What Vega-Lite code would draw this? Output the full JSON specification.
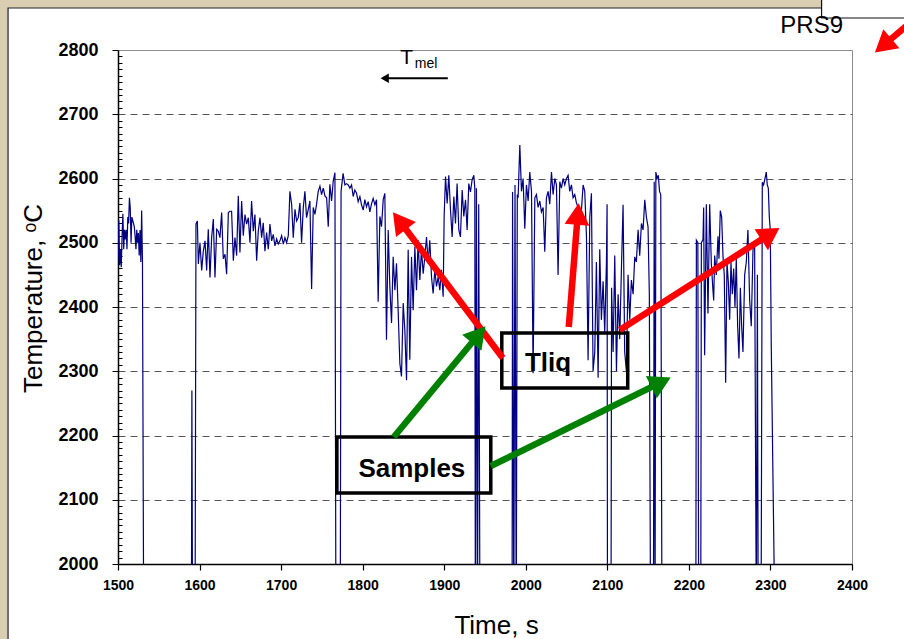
{
  "$schema": "https://vega.github.io/schema/vega-lite/v6.json",
  "width": 734,
  "height": 514,
  "autosize": {"type": "none"},
  "padding": {"left": 118, "top": 50, "right": 52, "bottom": 75},
  "background": "white",
  "config": {"view": {"stroke": "#8c8c8c", "strokeWidth": 1}, "font": "Liberation Sans"},
  "datasets": {
    "series": [
      {"t":1500,"v":2470},{"t":1501,"v":2535},{"t":1502,"v":2465},{"t":1503,"v":2490},{"t":1504,"v":2462},{"t":1505,"v":2510},{"t":1506,"v":2545},{"t":1507,"v":2490},{"t":1508,"v":2520},{"t":1509,"v":2505},{"t":1510,"v":2520},{"t":1511,"v":2490},{"t":1512,"v":2540},{"t":1513,"v":2530},{"t":1514,"v":2570},{"t":1515,"v":2555},{"t":1516,"v":2500},{"t":1517,"v":2540},{"t":1518,"v":2535},{"t":1519,"v":2530},{"t":1520,"v":2525},{"t":1521,"v":2510},{"t":1522,"v":2490},{"t":1523,"v":2520},{"t":1524,"v":2500},{"t":1525,"v":2515},{"t":1526,"v":2480},{"t":1527,"v":2520},{"t":1528,"v":2470},{"t":1529,"v":2550},{"t":1530,"v":2470},{"t":1531.5,"v":1900},
      {"t":1590,"v":1900},{"t":1590.6,"v":2270},{"t":1591.4,"v":1900},{"t":1594.5,"v":1900},
      {"t":1595.6,"v":2529},{"t":1597.3,"v":2534},{"t":1598.5,"v":2467},{"t":1600.5,"v":2500},{"t":1602.6,"v":2457},{"t":1604.6,"v":2487},{"t":1606.7,"v":2503},{"t":1608.7,"v":2457},{"t":1610.7,"v":2521},{"t":1612.8,"v":2446},{"t":1614.8,"v":2508},{"t":1616.9,"v":2537},{"t":1618.9,"v":2446},{"t":1621,"v":2521},{"t":1623,"v":2518},{"t":1625,"v":2508},{"t":1627.1,"v":2547},{"t":1629.1,"v":2475},{"t":1631.2,"v":2482},{"t":1633.2,"v":2451},{"t":1635.3,"v":2547},{"t":1637.3,"v":2549},{"t":1639.3,"v":2549},{"t":1641.4,"v":2472},{"t":1643.4,"v":2508},{"t":1645.5,"v":2480},{"t":1647.5,"v":2573},{"t":1649.5,"v":2485},{"t":1651.6,"v":2565},{"t":1653.6,"v":2511},{"t":1655.7,"v":2544},{"t":1657.7,"v":2529},{"t":1659.8,"v":2539},{"t":1661.8,"v":2500},{"t":1663.8,"v":2565},{"t":1665.9,"v":2518},{"t":1667.9,"v":2544},{"t":1670,"v":2472},{"t":1672,"v":2518},{"t":1674.1,"v":2539},{"t":1676.1,"v":2508},{"t":1678.1,"v":2531},{"t":1680.2,"v":2487},{"t":1682.2,"v":2516},{"t":1684.3,"v":2490},{"t":1686.3,"v":2529},{"t":1688.4,"v":2503},{"t":1690.4,"v":2513},{"t":1692.4,"v":2495},{"t":1694.5,"v":2506},{"t":1696.5,"v":2498},{"t":1698.6,"v":2503},{"t":1700.6,"v":2511},{"t":1702.7,"v":2498},{"t":1704.7,"v":2508},{"t":1706.7,"v":2500},{"t":1708.8,"v":2511},{"t":1710.8,"v":2580},{"t":1712.9,"v":2560},{"t":1714.9,"v":2508},{"t":1717,"v":2552},{"t":1719,"v":2534},{"t":1721,"v":2539},{"t":1723.1,"v":2562},{"t":1725.1,"v":2500},{"t":1727.2,"v":2555},{"t":1729.2,"v":2580},{"t":1731.2,"v":2539},{"t":1733.3,"v":2552},{"t":1735.3,"v":2565},{"t":1737.4,"v":2428},{"t":1739.4,"v":2555},{"t":1741.5,"v":2544},{"t":1743.5,"v":2560},{"t":1745.5,"v":2580},{"t":1747.6,"v":2588},{"t":1749.6,"v":2575},{"t":1751.7,"v":2585},{"t":1753.7,"v":2573},{"t":1755.8,"v":2570},{"t":1757.8,"v":2525},{"t":1759.8,"v":2591},{"t":1761.9,"v":2565},{"t":1763.9,"v":2596},{"t":1766,"v":2609},{"t":1767.2,"v":1900},{"t":1772.5,"v":1900},{"t":1773.5,"v":2580},
      {"t":1776,"v":2608},{"t":1778.2,"v":2590},{"t":1780.2,"v":2592},{"t":1782.3,"v":2590},{"t":1784.3,"v":2585},{"t":1786.4,"v":2590},{"t":1788.4,"v":2572},{"t":1790.4,"v":2582},{"t":1792.5,"v":2577},{"t":1794.5,"v":2564},{"t":1796.6,"v":2572},{"t":1798.6,"v":2559},{"t":1800.7,"v":2551},{"t":1802.7,"v":2567},{"t":1804.7,"v":2556},{"t":1806.8,"v":2564},{"t":1808.8,"v":2548},{"t":1810.9,"v":2561},{"t":1812.9,"v":2569},{"t":1815,"v":2559},{"t":1817,"v":2567},{"t":1819,"v":2408},{"t":1821.1,"v":2541},{"t":1823.1,"v":2525},{"t":1825.2,"v":2567},{"t":1827.2,"v":2577},{"t":1829.2,"v":2349},{"t":1831.3,"v":2520},{"t":1833.3,"v":2432},{"t":1835.4,"v":2375},{"t":1837.4,"v":2478},{"t":1839.5,"v":2426},{"t":1841.5,"v":2468},{"t":1843.5,"v":2395},{"t":1845.6,"v":2312},{"t":1847.6,"v":2292},{"t":1849.7,"v":2406},{"t":1851.7,"v":2364},{"t":1853.8,"v":2286},{"t":1855.8,"v":2489},{"t":1857.8,"v":2318},{"t":1859.9,"v":2478},{"t":1861.9,"v":2395},{"t":1864,"v":2494},{"t":1866,"v":2426},{"t":1868,"v":2504},{"t":1870.1,"v":2442},{"t":1872.1,"v":2489},{"t":1874.2,"v":2452},{"t":1876.2,"v":2478},{"t":1878.3,"v":2509},{"t":1880.3,"v":2468},{"t":1882.3,"v":2504},{"t":1884.4,"v":2447},{"t":1886.4,"v":2421},{"t":1888.5,"v":2458},{"t":1890.5,"v":2432},{"t":1892.6,"v":2447},{"t":1894.6,"v":2426},{"t":1896.6,"v":2458},{"t":1898.7,"v":2416},{"t":1899.9,"v":2541},{"t":1901.6,"v":2603},{"t":1903.6,"v":2561},{"t":1905.6,"v":2605},{"t":1907.7,"v":2551},{"t":1909.7,"v":2509},{"t":1911.8,"v":2572},{"t":1913.8,"v":2530},{"t":1915.8,"v":2592},{"t":1917.9,"v":2520},{"t":1919.9,"v":2509},{"t":1922,"v":2582},{"t":1924,"v":2541},{"t":1926.1,"v":2567},{"t":1928.1,"v":2520},{"t":1930.1,"v":2592},{"t":1932.2,"v":2579},{"t":1934.2,"v":2598},{"t":1936.3,"v":2605},{"t":1937.5,"v":2585},{"t":1938.2,"v":1900},{"t":1939.5,"v":2585},{"t":1940.8,"v":1900},{"t":1942.3,"v":2560},{"t":1943.8,"v":1900},
      {"t":1983.2,"v":1900},{"t":1983.8,"v":2579},{"t":1985.3,"v":1900},{"t":1986.8,"v":2590},{"t":1988.3,"v":1900},{"t":1989.6,"v":2575},{"t":1990.6,"v":2570},{"t":1992.7,"v":2652},{"t":1994.7,"v":2580},{"t":1996.7,"v":2600},{"t":1998.8,"v":2522},{"t":2000.8,"v":2590},{"t":2002.9,"v":2565},{"t":2004.9,"v":2610},{"t":2007,"v":2580},{"t":2009,"v":2297},{"t":2011.1,"v":2570},{"t":2013.1,"v":2575},{"t":2015.1,"v":2555},{"t":2017.2,"v":2565},{"t":2019.2,"v":2548},{"t":2021.3,"v":2555},{"t":2023.3,"v":2486},{"t":2025.3,"v":2570},{"t":2027.4,"v":2580},{"t":2029.4,"v":2560},{"t":2031.5,"v":2610},{"t":2033.5,"v":2575},{"t":2035.6,"v":2600},{"t":2037.6,"v":2590},{"t":2039.6,"v":2450},{"t":2041.7,"v":2595},{"t":2043.7,"v":2585},{"t":2045.8,"v":2600},{"t":2047.8,"v":2590},{"t":2049.9,"v":2600},{"t":2051.9,"v":2605},{"t":2053.9,"v":2580},{"t":2056,"v":2590},{"t":2058,"v":2570},{"t":2060.1,"v":2575},{"t":2062.1,"v":2562},{"t":2064.2,"v":2555},{"t":2066.2,"v":2540},{"t":2068.2,"v":2550},{"t":2070.3,"v":2590},{"t":2072.3,"v":2580},{"t":2074.4,"v":2510},{"t":2076.4,"v":2317},{"t":2078.5,"v":2540},{"t":2080.5,"v":2577},{"t":2082.5,"v":2300},{"t":2084.6,"v":2330},{"t":2086.6,"v":2470},{"t":2088.7,"v":2290},{"t":2090.7,"v":2490},{"t":2092.7,"v":2380},{"t":2094.8,"v":2440},{"t":2096.8,"v":2360},{"t":2098.9,"v":2470},{"t":2099.7,"v":2560},{"t":2100.2,"v":1900},{"t":2104.5,"v":1900},{"t":2105.2,"v":2430},{"t":2107.1,"v":2330},{"t":2109.1,"v":2480},{"t":2111.2,"v":2300},{"t":2113.2,"v":2420},{"t":2115.2,"v":2350},{"t":2117.3,"v":2460},{"t":2119.3,"v":2559},{"t":2121.3,"v":2330},{"t":2123.4,"v":2300},{"t":2125.4,"v":2450},{"t":2127.5,"v":2380},{"t":2129.5,"v":2442},{"t":2131.6,"v":2420},{"t":2133.6,"v":2478},{"t":2135.6,"v":2470},{"t":2137.7,"v":2520},{"t":2139.7,"v":2480},{"t":2141.8,"v":2530},{"t":2143.8,"v":2520},{"t":2145.9,"v":2567},{"t":2147.9,"v":2540},{"t":2149.9,"v":2525},{"t":2151.5,"v":2420},{"t":2153,"v":1900},{"t":2156.5,"v":1900},{"t":2157.5,"v":2595},{"t":2158.5,"v":1900},{"t":2159.5,"v":2610},{"t":2161,"v":2600},{"t":2162.5,"v":2605},{"t":2164,"v":2580},{"t":2165.5,"v":2575},{"t":2167,"v":1900},
      {"t":2208.5,"v":1900},{"t":2209.2,"v":2504},{"t":2211,"v":2500},{"t":2212,"v":1900},{"t":2214.5,"v":1900},{"t":2215.3,"v":2500},{"t":2217.3,"v":2505},{"t":2218.1,"v":2555},{"t":2219.3,"v":2325},{"t":2221.4,"v":2560},{"t":2223.4,"v":2390},{"t":2225.5,"v":2560},{"t":2227.5,"v":2468},{"t":2229.5,"v":2426},{"t":2230.4,"v":2410},{"t":2231.6,"v":2480},{"t":2233.6,"v":2450},{"t":2235.7,"v":2510},{"t":2236.9,"v":2475},{"t":2238.5,"v":2550},{"t":2240.2,"v":2540},{"t":2241.8,"v":2480},{"t":2243.4,"v":2450},{"t":2245.1,"v":2282},{"t":2246.7,"v":2470},{"t":2248.3,"v":2440},{"t":2250,"v":2380},{"t":2251.6,"v":2470},{"t":2253.2,"v":2420},{"t":2254.9,"v":2460},{"t":2256.5,"v":2400},{"t":2258.1,"v":2475},{"t":2259.8,"v":2370},{"t":2261.4,"v":2320},{"t":2263.1,"v":2430},{"t":2264.7,"v":2370},{"t":2266.3,"v":2330},{"t":2268.4,"v":2450},{"t":2270.4,"v":2470},{"t":2272.4,"v":2520},{"t":2274.5,"v":2411},{"t":2276.5,"v":2370},{"t":2278.6,"v":2489},{"t":2280.6,"v":2500},{"t":2282.7,"v":1900},{"t":2284,"v":2450},{"t":2285,"v":1900},{"t":2288.5,"v":1900},{"t":2290,"v":2594},{"t":2291.6,"v":2590},{"t":2293.3,"v":2600},{"t":2294.9,"v":2610},{"t":2296.1,"v":2590},{"t":2297.4,"v":2585},{"t":2298.6,"v":2540},{"t":2299.8,"v":2520},{"t":2301,"v":2340},{"t":2305.5,"v":1900},{"t":2400,"v":1900}
    ],
    "panels": [
      {"part":"strip","t1":1300,"t2":1365.2,"v1":1700,"v2":2950},
      {"part":"strip","t1":1300,"t2":2362.7,"v1":2865.4,"v2":2950},
      {"part":"frame","t1":1365.2,"t2":2500,"v1":1700,"v2":2865.4},
      {"part":"tab","t1":2362.7,"t2":2500,"v1":2849.8,"v2":2950}
    ],
    "boxes": [
      {"name":"Tliq","t1":1970.6,"t2":2125,"v1":2273.9,"v2":2359.5},
      {"name":"Samples","t1":1768.4,"t2":1957.1,"v1":2110.5,"v2":2197.7}
    ],
    "arrows": [
      {"id":"r1","c":"red","t1":1971.8,"v1":2320.6,"t2":1845.1,"v2":2534.2,"angle":-37},
      {"id":"r2","c":"red","t1":2052.7,"v1":2368.9,"t2":2063.8,"v2":2544.7,"angle":4.6},
      {"id":"r3","c":"red","t1":2115.2,"v1":2364.2,"t2":2299.9,"v2":2513.8,"angle":57.4},
      {"id":"r4","c":"red","t1":2494.3,"v1":2867.2,"t2":2438.2,"v2":2806.8,"angle":-130.3},
      {"id":"g1","c":"green","t1":1838.2,"v1":2197.7,"t2":1942.2,"v2":2357.2,"angle":39.6},
      {"id":"g2","c":"green","t1":1957.1,"v1":2152.5,"t2":2165.8,"v2":2282.8,"angle":63.8}
    ],
    "tmel": [
      {"t1":1904.4,"t2":1827,"v":2756}
    ],
    "notes": [
      {"id":"Tliq","text":"Tliq","t":2027.3,"v":2300.9},
      {"id":"Samples","text":"Samples","t":1860.3,"v":2135.4},
      {"id":"PRS9","text":"PRS9","t":2350.5,"v":2826.5},
      {"id":"T","text":"T","t":1853.8,"v":2778.2},
      {"id":"mel","text":"mel","t":1864,"v":2771.5}
    ]
  },
  "layer": [
    {
      "data": {"name": "series"},
      "mark": {"type": "line", "clip": true, "color": "#000080", "strokeWidth": 1.2},
      "encoding": {
        "x": {"field": "t", "type": "quantitative", "title": "Time, s",
          "scale": {"domain": [1500, 2400], "nice": false, "zero": false},
          "axis": {"values": [1500,1600,1700,1800,1900,2000,2100,2200,2300,2400], "tickCount": 100, "format": "d", "grid": false, "labelFlush": false,
            "domainColor": "black", "domainWidth": 1.5, "tickColor": "black", "tickSize": 6, "tickWidth": 1.2,
            "labelFont": "Liberation Sans", "labelFontWeight": "bold", "labelFontSize": 14, "labelColor": "black", "labelPadding": 8,
            "titleFont": "Liberation Sans", "titleFontWeight": "normal", "titleFontSize": 26, "titleColor": "black",
            "titleX": 378, "titleY": 69, "titleBaseline": "alphabetic"}},
        "y": {"field": "v", "type": "quantitative", "title": "Temperature, ᵒC",
          "scale": {"domain": [2000, 2800], "nice": false, "zero": false},
          "axis": {"values": [2000,2010,2020,2030,2040,2050,2060,2070,2080,2090,2100,2110,2120,2130,2140,2150,2160,2170,2180,2190,2200,2210,2220,2230,2240,2250,2260,2270,2280,2290,2300,2310,2320,2330,2340,2350,2360,2370,2380,2390,2400,2410,2420,2430,2440,2450,2460,2470,2480,2490,2500,2510,2520,2530,2540,2550,2560,2570,2580,2590,2600,2610,2620,2630,2640,2650,2660,2670,2680,2690,2700,2710,2720,2730,2740,2750,2760,2770,2780,2790,2800],
            "tickCount": 200, "labelFlush": false,
            "format": "d", "labelExpr": "datum.value % 100 === 0 ? datum.label : ''", "labelOverlap": false,
            "grid": true, "gridColor": "#555555", "gridDash": [7, 5], "gridWidth": 1,
            "gridOpacity": {"condition": {"test": "datum.value % 100 === 0 && datum.value > 2000 && datum.value < 2800", "value": 1}, "value": 0},
            "tickSize": {"condition": {"test": "datum.value % 100 === 0", "value": 6}, "value": -4},
            "domainColor": "black", "domainWidth": 1.5, "tickColor": "black", "tickWidth": 1,
            "labelFont": "Liberation Sans", "labelFontWeight": "bold", "labelFontSize": 18, "labelColor": "black", "labelPadding": 14,
            "titleFont": "Liberation Sans", "titleFontWeight": "normal", "titleFontSize": 26, "titleColor": "black",
            "titleX": -85, "titleY": 248, "titleAngle": -90, "titleBaseline": "middle", "titleAlign": "center"}}
      }
    },
    {
      "data": {"name": "panels"},
      "transform": [{"filter": "datum.part === 'strip'"}],
      "mark": {"type": "rect", "clip": false, "color": "#d9ceb2"},
      "encoding": {
        "x": {"field": "t1", "type": "quantitative", "title": "Time, s", "scale": {"domain": [1500, 2400], "nice": false, "zero": false}},
        "x2": {"field": "t2"},
        "y": {"field": "v1", "type": "quantitative", "title": "Temperature, ᵒC", "scale": {"domain": [2000, 2800], "nice": false, "zero": false}},
        "y2": {"field": "v2"}
      }
    },
    {
      "data": {"name": "panels"},
      "transform": [{"filter": "datum.part === 'frame'"}],
      "mark": {"type": "rect", "clip": false, "fillOpacity": 0, "stroke": "#222222", "strokeWidth": 1.2},
      "encoding": {
        "x": {"field": "t1", "type": "quantitative", "title": "Time, s", "scale": {"domain": [1500, 2400], "nice": false, "zero": false}},
        "x2": {"field": "t2"},
        "y": {"field": "v1", "type": "quantitative", "title": "Temperature, ᵒC", "scale": {"domain": [2000, 2800], "nice": false, "zero": false}},
        "y2": {"field": "v2"}
      }
    },
    {
      "data": {"name": "panels"},
      "transform": [{"filter": "datum.part === 'tab'"}],
      "mark": {"type": "rect", "clip": false, "fill": "white", "stroke": "#111111", "strokeWidth": 1.2},
      "encoding": {
        "x": {"field": "t1", "type": "quantitative", "title": "Time, s", "scale": {"domain": [1500, 2400], "nice": false, "zero": false}},
        "x2": {"field": "t2"},
        "y": {"field": "v1", "type": "quantitative", "title": "Temperature, ᵒC", "scale": {"domain": [2000, 2800], "nice": false, "zero": false}},
        "y2": {"field": "v2"}
      }
    },
    {
      "data": {"name": "boxes"},
      "mark": {"type": "rect", "clip": false, "fillOpacity": 0, "stroke": "black", "strokeWidth": 3.5},
      "encoding": {
        "x": {"field": "t1", "type": "quantitative", "title": "Time, s", "scale": {"domain": [1500, 2400], "nice": false, "zero": false}},
        "x2": {"field": "t2"},
        "y": {"field": "v1", "type": "quantitative", "title": "Temperature, ᵒC", "scale": {"domain": [2000, 2800], "nice": false, "zero": false}},
        "y2": {"field": "v2"}
      }
    },
    {
      "data": {"name": "arrows"},
      "mark": {"type": "rule", "clip": false, "strokeWidth": 6.5, "strokeCap": "butt"},
      "encoding": {
        "x": {"field": "t1", "type": "quantitative", "title": "Time, s", "scale": {"domain": [1500, 2400], "nice": false, "zero": false}},
        "x2": {"field": "t2"},
        "y": {"field": "v1", "type": "quantitative", "title": "Temperature, ᵒC", "scale": {"domain": [2000, 2800], "nice": false, "zero": false}},
        "y2": {"field": "v2"},
        "color": {"field": "c", "type": "nominal", "scale": {"domain": ["red", "green"], "range": ["#ff0000", "#008000"]}, "legend": null}
      }
    },
    {
      "data": {"name": "arrows"},
      "mark": {"type": "point", "clip": false, "shape": "triangle-up", "filled": true, "opacity": 1, "size": 620, "strokeWidth": 0},
      "encoding": {
        "x": {"field": "t2", "type": "quantitative", "title": "Time, s", "scale": {"domain": [1500, 2400], "nice": false, "zero": false}},
        "y": {"field": "v2", "type": "quantitative", "title": "Temperature, ᵒC", "scale": {"domain": [2000, 2800], "nice": false, "zero": false}},
        "angle": {"field": "angle", "type": "quantitative", "scale": null},
        "color": {"field": "c", "type": "nominal", "scale": {"domain": ["red", "green"], "range": ["#ff0000", "#008000"]}, "legend": null}
      }
    },
    {
      "data": {"name": "tmel"},
      "mark": {"type": "rule", "clip": false, "strokeWidth": 2, "color": "black"},
      "encoding": {
        "x": {"field": "t1", "type": "quantitative", "title": "Time, s", "scale": {"domain": [1500, 2400], "nice": false, "zero": false}},
        "x2": {"field": "t2"},
        "y": {"field": "v", "type": "quantitative", "title": "Temperature, ᵒC", "scale": {"domain": [2000, 2800], "nice": false, "zero": false}}
      }
    },
    {
      "data": {"name": "tmel"},
      "mark": {"type": "point", "clip": false, "shape": "triangle-left", "filled": true, "opacity": 1, "size": 90, "color": "black", "strokeWidth": 0},
      "encoding": {
        "x": {"field": "t2", "type": "quantitative", "title": "Time, s", "scale": {"domain": [1500, 2400], "nice": false, "zero": false}},
        "y": {"field": "v", "type": "quantitative", "title": "Temperature, ᵒC", "scale": {"domain": [2000, 2800], "nice": false, "zero": false}}
      }
    },
    {
      "data": {"name": "notes"},
      "transform": [{"filter": "datum.id === 'Tliq' || datum.id === 'Samples'"}],
      "mark": {"type": "text", "clip": false, "font": "Liberation Sans", "fontWeight": "bold", "fontSize": 26, "color": "black", "align": "center", "baseline": "alphabetic"},
      "encoding": {
        "x": {"field": "t", "type": "quantitative", "title": "Time, s", "scale": {"domain": [1500, 2400], "nice": false, "zero": false}},
        "y": {"field": "v", "type": "quantitative", "title": "Temperature, ᵒC", "scale": {"domain": [2000, 2800], "nice": false, "zero": false}},
        "text": {"field": "text"}
      }
    },
    {
      "data": {"name": "notes"},
      "transform": [{"filter": "datum.id === 'PRS9'"}],
      "mark": {"type": "text", "clip": false, "font": "Liberation Sans", "fontSize": 24, "color": "black", "align": "center", "baseline": "alphabetic"},
      "encoding": {
        "x": {"field": "t", "type": "quantitative", "title": "Time, s", "scale": {"domain": [1500, 2400], "nice": false, "zero": false}},
        "y": {"field": "v", "type": "quantitative", "title": "Temperature, ᵒC", "scale": {"domain": [2000, 2800], "nice": false, "zero": false}},
        "text": {"field": "text"}
      }
    },
    {
      "data": {"name": "notes"},
      "transform": [{"filter": "datum.id === 'T'"}],
      "mark": {"type": "text", "clip": false, "font": "Liberation Sans", "fontSize": 21, "color": "black", "align": "center", "baseline": "alphabetic"},
      "encoding": {
        "x": {"field": "t", "type": "quantitative", "title": "Time, s", "scale": {"domain": [1500, 2400], "nice": false, "zero": false}},
        "y": {"field": "v", "type": "quantitative", "title": "Temperature, ᵒC", "scale": {"domain": [2000, 2800], "nice": false, "zero": false}},
        "text": {"field": "text"}
      }
    },
    {
      "data": {"name": "notes"},
      "transform": [{"filter": "datum.id === 'mel'"}],
      "mark": {"type": "text", "clip": false, "font": "Liberation Sans", "fontSize": 14, "color": "black", "align": "left", "baseline": "alphabetic"},
      "encoding": {
        "x": {"field": "t", "type": "quantitative", "title": "Time, s", "scale": {"domain": [1500, 2400], "nice": false, "zero": false}},
        "y": {"field": "v", "type": "quantitative", "title": "Temperature, ᵒC", "scale": {"domain": [2000, 2800], "nice": false, "zero": false}},
        "text": {"field": "text"}
      }
    }
  ]
}
